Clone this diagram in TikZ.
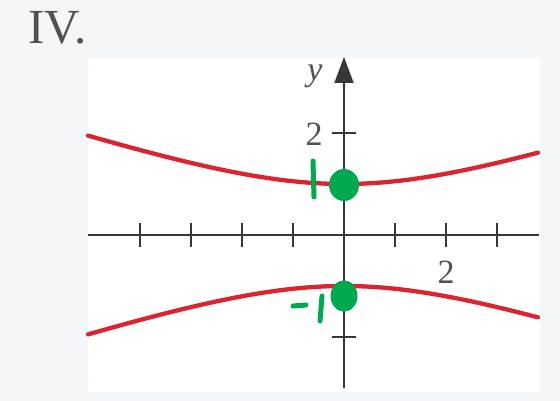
\documentclass[tikz,border=0pt]{standalone}
\usepackage{fontspec}
\setmainfont{Liberation Serif}
\usetikzlibrary{arrows.meta}
\definecolor{bgc}{RGB}{243,247,250}
\definecolor{axc}{RGB}{55,55,58}
\definecolor{curvec}{RGB}{218,36,48}
\definecolor{labc}{RGB}{80,80,85}
\definecolor{pen}{RGB}{0,168,80}
\tikzset{
  axis/.style={draw=axc, line width=2pt},
  tick/.style={draw=axc, line width=1.8pt},
  branch/.style={draw=curvec, line width=4.3pt, line cap=round},
  lab/.style={text=labc, inner sep=0pt, font=\fontsize{34}{34}\selectfont},
  ink/.style={draw=pen, line width=5pt, line cap=round},
}
\begin{document}
\begin{tikzpicture}[x=1pt, y=-1pt]
\useasboundingbox (0,0) rectangle (560,401);
\fill[bgc] (0,0) rectangle (560,401);
\fill[white] (88,58) rectangle (540,392);
% axes
\coordinate (xl) at (88,235);
\coordinate (xr) at (539,235);
\coordinate (yb) at (344,388);
\coordinate (yt) at (344,57);
\draw[axis] (xl) -- (xr);
\draw[axis, -{Triangle[length=26pt,width=19pt]}] (yb) -- (yt);
% ticks
\foreach \i in {-4,-3,-2,-1,1,2,3} {
  \draw[tick] (344+51*\i,223) -- (344+51*\i,247);
}
\foreach \j in {-2,-1,1,2} {
  \draw[tick] (332,235-51*\j) -- (356,235-51*\j);
}
% labels
\node[lab] (title) at (57.5,28) {\fontsize{49}{49}\selectfont IV.};
\node[lab] (ylab) at (315,76) {\itshape y};
\node[lab] (ytwo) at (314,134) {2};
\node[lab] (xtwo) at (446,272) {2};
% hyperbola branches
\draw[branch] plot[domain=88:538, samples=80, smooth] ({\x}, {235 - 51*sqrt(1+((\x-344)/51)^2/9)});
\draw[branch] plot[domain=88:538, samples=80, smooth] ({\x}, {235 + 51*sqrt(1+((\x-344)/51)^2/9)});
% green annotations
\fill[pen] (344,185) ellipse (15pt and 16pt);
\fill[pen] (344,296) ellipse (13.5pt and 15.5pt);
\draw[ink] (313,161) -- (314,197);
\draw[ink] (293,306) -- (306,305);
\draw[ink] (322,296) -- (320,321);
\end{tikzpicture}
\end{document}
